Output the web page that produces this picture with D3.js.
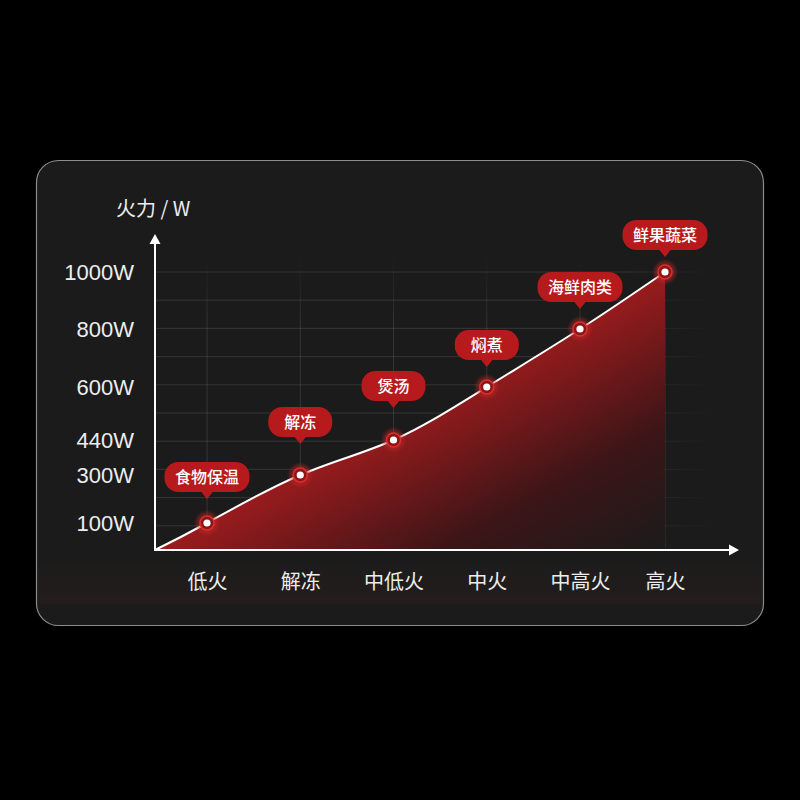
<!DOCTYPE html>
<html>
<head>
<meta charset="utf-8">
<script src="https://cdn.jsdelivr.net/npm/d3@7/dist/d3.min.js"></script>
<style>
  html, body { margin: 0; background: #000; }
  svg { display: block; }
</style>
</head>
<body>
<div id="chart"></div>
<script>
// data
const categories = ["低火", "解冻", "中低火", "中火", "中高火", "高火"];
const powerW = [100, 300, 440, 600, 800, 1000];
const modes = ["食物保温", "解冻", "煲汤", "焖煮", "海鲜肉类", "鲜果蔬菜"];
const yTicks = [100, 300, 440, 600, 800, 1000];
const yTickLabels = ["100W", "300W", "440W", "600W", "800W", "1000W"];
const gridValues = [100, 200, 300, 400, 500, 600, 700, 800, 900, 1000];

// how far each tag sits above its point
const tagLift = [31, 38, 39, 27, 27, 22];

var width = 800, height = 800;
var x0 = 155, y0 = 550;

var svg = d3.select("#chart").append("svg")
  .attr("width", width)
  .attr("height", height);

var defs = svg.append("defs");

// area fill, runs across the curve diagonal
var areaGrad = defs.append("linearGradient")
  .attr("id", "areaGrad")
  .attr("x1", 0).attr("y1", 0).attr("x2", 1).attr("y2", 1);
areaGrad.append("stop").attr("offset", 0.35).attr("stop-color", "#b81e1f");
areaGrad.append("stop").attr("offset", 0.5).attr("stop-color", "#9a1b1d");
areaGrad.append("stop").attr("offset", 0.78).attr("stop-color", "#3c1517");
areaGrad.append("stop").attr("offset", 1).attr("stop-color", "#1b1b1b");

var hGrad = defs.append("linearGradient")
  .attr("id", "hGrad").attr("gradientUnits", "userSpaceOnUse")
  .attr("x1", x0).attr("y1", 0).attr("x2", 715).attr("y2", 0);
hGrad.append("stop").attr("offset", 0.8).attr("stop-color", "#fff").attr("stop-opacity", 0.11);
hGrad.append("stop").attr("offset", 1).attr("stop-color", "#fff").attr("stop-opacity", 0);

var vGrad = defs.append("linearGradient")
  .attr("id", "vGrad").attr("gradientUnits", "userSpaceOnUse")
  .attr("x1", 0).attr("y1", y0).attr("x2", 0).attr("y2", 255);
vGrad.append("stop").attr("offset", 0.75).attr("stop-color", "#fff").attr("stop-opacity", 0.11);
vGrad.append("stop").attr("offset", 1).attr("stop-color", "#fff").attr("stop-opacity", 0);

var bandGrad = defs.append("linearGradient")
  .attr("id", "bandGrad").attr("x1", 0).attr("y1", 0).attr("x2", 0).attr("y2", 1);
bandGrad.append("stop").attr("offset", 0).attr("stop-color", "#2a1e1e").attr("stop-opacity", 0);
bandGrad.append("stop").attr("offset", 1).attr("stop-color", "#2a1e1e").attr("stop-opacity", 0.6);

var glow = defs.append("filter").attr("id", "glow")
  .attr("x", "-50%").attr("y", "-50%").attr("width", "200%").attr("height", "200%");
glow.append("feGaussianBlur").attr("stdDeviation", 1.5);

// panel
svg.append("rect")
  .attr("x", 36.5).attr("y", 160.5)
  .attr("width", 727).attr("height", 465)
  .attr("rx", 22)
  .attr("fill", "#1b1b1b")
  .attr("stroke", "#8c8c8c")
  .attr("stroke-width", 1.2);

svg.append("rect")
  .attr("x", 38).attr("y", 556)
  .attr("width", 724).attr("height", 48)
  .attr("fill", "url(#bandGrad)");

// scales: the picture spaces its ticks unevenly, so both are piecewise
var x = d3.scaleLinear()
  .domain([0, 4, 5])
  .range([207, 580, 665]);

var y = d3.scaleLinear()
  .domain([0, 100, 300, 440, 600, 800, 1000])
  .range([y0, 523, 475, 440, 387, 329, 272]);

var yGrid = d3.scaleLinear()
  .domain([0, 1000])
  .range([554, 272]);

// grid
var g = svg.append("g");

g.selectAll(".hgrid")
  .data(gridValues)
  .enter().append("line")
  .attr("class", "hgrid")
  .attr("x1", x0).attr("x2", 715)
  .attr("y1", function(d) { return yGrid(d); })
  .attr("y2", function(d) { return yGrid(d); })
  .attr("stroke", "url(#hGrad)")
  .attr("stroke-width", 1);

g.selectAll(".vgrid")
  .data(categories)
  .enter().append("line")
  .attr("class", "vgrid")
  .attr("x1", function(d, i) { return x(i); })
  .attr("x2", function(d, i) { return x(i) + 0.01; })
  .attr("y1", y0).attr("y2", 255)
  .attr("stroke", "url(#vGrad)")
  .attr("stroke-width", 1);

// curve + area
var pts = [[x0, y(0)]].concat(powerW.map(function(d, i) { return [x(i), y(d)]; }));

var curve = d3.curveNatural;

var area = d3.area()
  .x(function(d) { return d[0]; })
  .y0(y0)
  .y1(function(d) { return d[1]; })
  .curve(curve);

var line = d3.line()
  .x(function(d) { return d[0]; })
  .y(function(d) { return d[1]; })
  .curve(curve);

g.append("path")
  .datum(pts)
  .attr("d", area)
  .attr("fill", "url(#areaGrad)");

g.append("path")
  .datum(pts)
  .attr("d", line)
  .attr("fill", "none")
  .attr("stroke", "#fff")
  .attr("stroke-width", 2);

// axes
var yAxis = g.append("g")
  .attr("transform", "translate(" + x0 + ",0)")
  .call(d3.axisLeft(y)
    .tickValues(yTicks)
    .tickFormat(function(d, i) { return yTickLabels[i]; })
    .tickSize(0)
    .tickPadding(21));
yAxis.select(".domain").remove();
yAxis.selectAll("text")
  .attr("fill", "#ededed")
  .style("font-family", "'Liberation Sans', Arial, sans-serif")
  .style("font-size", "22px");

var xAxis = g.append("g")
  .attr("transform", "translate(0," + y0 + ")")
  .call(d3.axisBottom(x)
    .tickValues(d3.range(categories.length))
    .tickFormat(function(d) { return categories[d]; })
    .tickSize(0));
xAxis.select(".domain").remove();
xAxis.selectAll("text")
  .attr("y", 32)
  .attr("dy", "0.36em")
  .attr("fill", "#ededed")
  .style("font-family", "'Noto Sans CJK SC', sans-serif")
  .style("font-size", "20px");

// axis lines with arrows
g.append("line")
  .attr("x1", x0).attr("y1", y0 + 1)
  .attr("x2", x0).attr("y2", 242)
  .attr("stroke", "#fff").attr("stroke-width", 2);
g.append("path")
  .attr("d", "M" + x0 + ",234L" + (x0 - 5.5) + ",244L" + (x0 + 5.5) + ",244Z")
  .attr("fill", "#fff");

g.append("line")
  .attr("x1", x0 - 1).attr("y1", y0)
  .attr("x2", 731).attr("y2", y0)
  .attr("stroke", "#fff").attr("stroke-width", 2);
g.append("path")
  .attr("d", "M739," + y0 + "L729," + (y0 - 5.5) + "L729," + (y0 + 5.5) + "Z")
  .attr("fill", "#fff");

svg.append("text")
  .attr("x", 116).attr("y", 209)
  .attr("dy", "0.36em")
  .attr("fill", "#ededed")
  .style("font-family", "'Noto Sans CJK SC', sans-serif")
  .style("font-size", "20px")
  .text("火力 / W");

// point markers
var marks = g.selectAll(".mark")
  .data(powerW)
  .enter().append("g")
  .attr("class", "mark")
  .attr("transform", function(d, i) { return "translate(" + x(i) + "," + y(d) + ")"; });

marks.append("circle")
  .attr("r", 11)
  .attr("fill", "#c62828")
  .attr("opacity", 0.45)
  .attr("filter", "url(#glow)");
marks.append("circle")
  .attr("r", 7)
  .attr("fill", "#8e1416")
  .attr("stroke", "#d8302f")
  .attr("stroke-width", 1.6);
marks.append("circle")
  .attr("r", 3.6)
  .attr("fill", "#fff");

// tags
var tags = g.selectAll(".tag")
  .data(modes)
  .enter().append("g")
  .attr("class", "tag")
  .attr("transform", function(d, i) {
    return "translate(" + x(i) + "," + (y(powerW[i]) - tagLift[i]) + ")";
  });

tags.append("path")
  .attr("d", "M-6.5,-1L6.5,-1L0,7Z")
  .attr("fill", "#b71a1c");

var tagRect = tags.append("rect")
  .attr("y", -30)
  .attr("height", 30)
  .attr("rx", 14)
  .attr("fill", "#b71a1c");

var tagText = tags.append("text")
  .attr("y", -15)
  .attr("dy", "0.36em")
  .attr("text-anchor", "middle")
  .attr("fill", "#fff")
  .style("font-family", "'Noto Sans CJK SC', sans-serif")
  .style("font-size", "16px")
  .style("font-weight", 500)
  .text(function(d) { return d; });

tagText.each(function(d, i) {
  var w = Math.max(64, this.getComputedTextLength() + 21);
  d3.select(tagRect.nodes()[i])
    .attr("x", -w / 2)
    .attr("width", w);
});
</script>
</body>
</html>
